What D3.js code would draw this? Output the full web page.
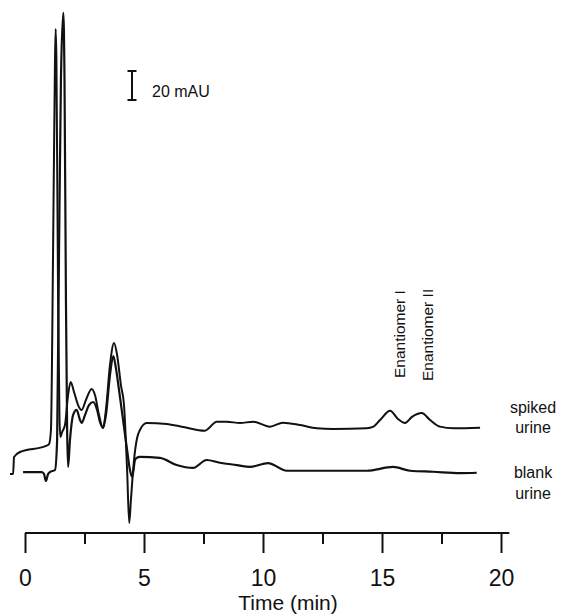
<!DOCTYPE html>
<html>
<head>
<meta charset="utf-8">
<script src="https://cdn.jsdelivr.net/npm/d3@7"></script>
<style>
  body { margin: 0; background: #fff; }
  text { font-family: "Liberation Sans", Arial, sans-serif; fill: #111; }
</style>
</head>
<body>
<div id="chart"></div>
<script>
// chromatogram traces: time (min) and absorbance (mAU, blank baseline = 0)
var spikedTime = [-0.63, -0.50, -0.46, -0.21, 0.88, 1.01, 1.09, 1.18, 1.26, 1.29, 1.32, 1.39, 1.45, 1.49,
  1.56, 1.68, 1.81, 1.92, 2.06, 2.23, 2.38, 2.56, 2.80, 2.94, 3.11, 3.28, 3.40, 3.57, 3.74, 3.87, 4.03,
  4.16, 4.29, 4.38, 4.45, 4.58, 4.71, 4.83, 5.11, 5.95, 6.64, 7.56, 8.06, 8.48, 9.03, 9.58, 10.29, 10.84,
  11.56, 12.26, 12.94, 14.36, 14.62, 14.92, 15.34, 15.67, 15.97, 16.26, 16.67, 17.02, 17.44, 18.00, 19.12];
var spikedAbs = [-2.8, -2.8, 9.0, 12.4, 16.6, 17.9, 27.6, 151.7, 282.8, 304.1, 282.8, 117.2, 34.5, 22.8,
  26.2, 31.0, 51.7, 60.7, 53.8, 44.8, 41.4, 48.3, 55.9, 51.7, 37.9, 29.0, 41.4, 72.4, 87.6, 79.3, 58.6,
  44.8, 0, -36.6, -20.7, 6.9, 22.1, 27.6, 32.4, 31.7, 29.7, 27.1, 33.3, 33.3, 32.4, 33.3, 29.9, 32.6,
  31.0, 28.8, 28.3, 28.8, 29.7, 34.5, 40.9, 35.2, 32.4, 36.6, 39.3, 34.5, 29.9, 28.8, 29.2];

var blankTime = [-0.08, 0.71, 0.80, 0.88, 0.97, 1.05, 1.26, 1.35, 1.43, 1.51, 1.61, 1.66, 1.72, 1.77,
  1.81, 1.89, 2.02, 2.17, 2.31, 2.38, 2.52, 2.69, 2.86, 3.03, 3.15, 3.28, 3.40, 3.57, 3.71, 3.82, 3.95,
  4.12, 4.29, 4.41, 4.50, 4.56, 4.62, 4.69, 4.83, 5.67, 6.37, 7.06, 7.63, 8.19, 8.90, 9.45, 10.21, 11.00,
  12.26, 14.36, 15.46, 16.18, 17.14, 18.28, 18.98];
var blankAbs = [-1.4, -1.4, -2.8, -7.6, -2.8, -1.4, 0, 20.7, 151.7, 269.0, 315.2, 269.0, 117.2, 27.6,
  2.1, 20.7, 37.9, 41.4, 34.5, 32.4, 37.9, 44.8, 46.9, 41.4, 33.1, 29.0, 37.9, 65.5, 78.6, 70.3, 55.2,
  34.5, 13.8, 0, -4.8, 0, 6.9, 8.3, 9.0, 8.3, 3.4, 1.4, 6.9, 5.0, 3.4, 2.1, 4.8, -0.5,
  -0.5, -0.5, 2.1, -0.5, -1.2, -2.1, -1.9];

var majorTicks = [0, 5, 10, 15, 20];
var minorTicks = [2.5, 7.5, 12.5, 17.5];
var enantiomerLabels = ["Enantiomer I", "Enantiomer II"];
var enantiomerTimes = [15.34, 16.67];
var scaleBarValue = 20;

var svgWidth = 562;
var svgHeight = 615;

var svg = d3.select("#chart")
  .append("svg")
  .attr("width", svgWidth)
  .attr("height", svgHeight);

// scales
var xScale = d3.scaleLinear()
  .domain([0, 20])
  .range([25, 501]);
var yScale = d3.scaleLinear()
  .domain([0, 20])
  .range([470, 441]);

var line = d3.line()
  .x(d => xScale(d[0]))
  .y(d => yScale(d[1]))
  .curve(d3.curveMonotoneX);

var spiked = spikedTime.map((t, i) => [t, spikedAbs[i]]);
var blank = blankTime.map((t, i) => [t, blankAbs[i]]);

svg.append("path")
  .datum(spiked)
  .attr("d", line)
  .attr("fill", "none")
  .attr("stroke", "#111")
  .attr("stroke-width", 2);

svg.append("path")
  .datum(blank)
  .attr("d", line)
  .attr("fill", "none")
  .attr("stroke", "#111")
  .attr("stroke-width", 2.2);

// x axis
var axisY = 533;
var axisG = svg.append("g")
  .attr("transform", `translate(0, ${axisY})`);

axisG.append("line")
  .attr("x1", xScale(0))
  .attr("x2", xScale(20.35))
  .attr("stroke", "#111")
  .attr("stroke-width", 2);

var majorAxis = d3.axisBottom(xScale)
  .tickValues(majorTicks)
  .tickSize(20)
  .tickSizeOuter(0)
  .tickPadding(17)
  .tickFormat(d3.format("d"));
var minorAxis = d3.axisBottom(xScale)
  .tickValues(minorTicks)
  .tickSize(11)
  .tickSizeOuter(0)
  .tickFormat("");

axisG.append("g").call(majorAxis);
axisG.append("g").call(minorAxis);
axisG.selectAll(".domain").remove();
axisG.selectAll(".tick line")
  .attr("stroke", "#111")
  .attr("stroke-width", 2);
axisG.selectAll(".tick text")
  .attr("font-size", 23)
  .attr("font-family", "Liberation Sans, Arial, sans-serif")
  .attr("fill", "#111");

svg.append("text")
  .attr("x", 288)
  .attr("y", 610)
  .attr("text-anchor", "middle")
  .attr("font-size", 21)
  .text("Time (min)");

// 20 mAU scale bar
var barX = 132, barTop = 71;
var barLen = yScale(0) - yScale(scaleBarValue);
var bar = svg.append("g").attr("stroke", "#111").attr("stroke-width", 2);
bar.append("line").attr("x1", barX).attr("x2", barX).attr("y1", barTop).attr("y2", barTop + barLen);
bar.append("line").attr("x1", barX - 4.5).attr("x2", barX + 4.5).attr("y1", barTop).attr("y2", barTop);
bar.append("line").attr("x1", barX - 4.5).attr("x2", barX + 4.5).attr("y1", barTop + barLen).attr("y2", barTop + barLen);

svg.append("text")
  .attr("x", 152)
  .attr("y", 97)
  .attr("font-size", 16)
  .text(scaleBarValue + " mAU");

// trace labels
var traceLabels = [["spiked", 413], ["urine", 433], ["blank", 478], ["urine", 499]];
svg.selectAll(".trace-label")
  .data(traceLabels)
  .enter()
  .append("text")
  .attr("class", "trace-label")
  .attr("x", 533)
  .attr("y", d => d[1])
  .attr("text-anchor", "middle")
  .attr("font-size", 16)
  .text(d => d[0]);

// enantiomer labels, rotated
svg.selectAll(".enant")
  .data(enantiomerLabels)
  .enter()
  .append("text")
  .attr("class", "enant")
  .attr("transform", (d, i) => `translate(${xScale(enantiomerTimes[i]) + (i === 0 ? 15 : 11)}, ${i === 0 ? 378 : 381}) rotate(-90)`)
  .attr("font-size", 15.5)
  .text(d => d);
</script>
</body>
</html>
